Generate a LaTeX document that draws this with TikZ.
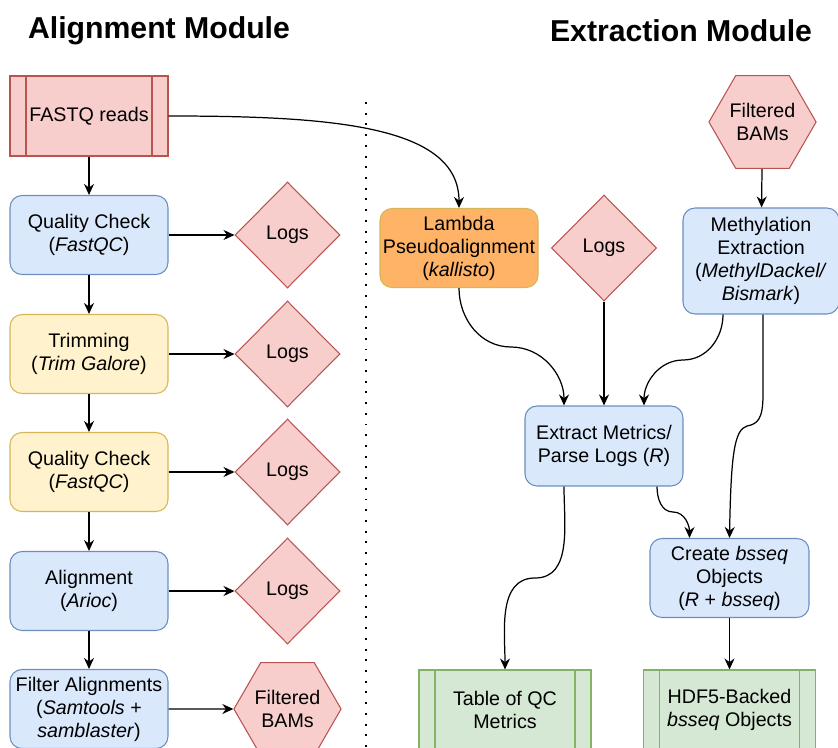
\documentclass[tikz,border=0pt]{standalone}
\usepackage{fontspec}
\setmainfont{Liberation Sans}
\usepackage{tikz}
\usetikzlibrary{shapes.geometric,arrows.meta,calc}

\definecolor{redF}{HTML}{F8CECC}
\definecolor{redD}{HTML}{B85450}
\definecolor{blueF}{HTML}{DAE8FC}
\definecolor{blueD}{HTML}{6C8EBF}
\definecolor{yelF}{HTML}{FFF2CC}
\definecolor{yelD}{HTML}{D6B656}
\definecolor{oraF}{HTML}{FFB366}
\definecolor{greF}{HTML}{D5E8D4}
\definecolor{greD}{HTML}{82B366}

\tikzset{
  every node/.style={font=\fontsize{11.2}{13.1}\selectfont, align=center},
  title/.style={font=\fontsize{17.2}{20}\selectfont\bfseries},
  box/.style={rectangle, rounded corners=0.24cm, line width=0.6pt, minimum width=3.16cm, minimum height=1.58cm, inner sep=1pt},
  bluebox/.style={box, draw=blueD, fill=blueF},
  yelbox/.style={box, draw=yelD, fill=yelF},
  orabox/.style={box, draw=yelD, fill=oraF},
  procbox/.style={rectangle, line width=0.6pt, minimum width=3.44cm, minimum height=1.6cm, inner sep=1pt},
  logs/.style={diamond, draw=redD, fill=redF, line width=0.6pt, minimum width=2.1cm, minimum height=2.12cm, inner sep=0pt},
  bams/.style={regular polygon, regular polygon sides=6, draw=redD, fill=redF, line width=0.6pt, minimum size=2.1cm, inner sep=0pt},
  arr/.style={line width=0.7pt, -{Stealth[length=0.22cm, width=0.2cm]}}
}

\begin{document}
\begin{tikzpicture}[x=0.02cm, y=-0.02cm]
\clip (0,0) rectangle (838,747);

% titles
\node[title] (tA) at (159,31) {Alignment Module};
\node[title] (tE) at (681,31) {Extraction Module};

\draw[line width=1.1pt, dash pattern=on 1.1pt off 5pt] (366,102) -- (366,760);

% alignment module
\node[procbox, draw=redD, fill=redF, minimum width=3.16cm] (fastq) at (89,116) {FASTQ reads};
\node[bluebox] (qc1) at (89,235) {Quality Check\\(\textit{FastQC})};
\node[yelbox] (trim) at (89,354) {Trimming\\(\textit{Trim Galore})};
\node[yelbox] (qc2) at (89,472) {Quality Check\\(\textit{FastQC})};
\node[bluebox] (aln) at (89,591) {Alignment\\(\textit{Arioc})};
\node[bluebox] (filt) at (89,709) {Filter Alignments\\(\textit{Samtools} +\\\textit{samblaster})};

\node[logs] (log1) at (287.5,235) {Logs};
\node[logs] (log2) at (287.5,354) {Logs};
\node[logs] (log3) at (287.5,472) {Logs};
\node[logs] (log4) at (287.5,591) {Logs};
\node[bams] (bam1) at (287.5,709) {Filtered\\BAMs};

% extraction module
\node[bams] (bam2) at (762.5,122) {Filtered\\BAMs};
\node[orabox] (lambda) at (459,248) {Lambda\\Pseudoalignment\\(\textit{kallisto})};
\node[logs] (log5) at (604,248) {Logs};
\node[bluebox, minimum width=3.12cm, minimum height=2.12cm] (meth) at (761,261) {Methylation\\Extraction\\(\textit{MethylDackel/}\\\textit{Bismark})};
\node[bluebox, minimum height=1.6cm] (extract) at (604,446) {Extract Metrics/\\Parse Logs (\textit{R})};
\node[bluebox, minimum width=3.18cm] (create) at (729.5,578) {Create \textit{bsseq}\\Objects\\(\textit{R} + \textit{bsseq})};
\node[procbox, draw=greD, fill=greF] (qctab) at (505,710) {Table of QC\\Metrics};
\node[procbox, draw=greD, fill=greF] (hdf) at (729.5,710) {HDF5-Backed\\\textit{bsseq} Objects};

\foreach \n/\c in {fastq/redD, qctab/greD, hdf/greD} {
  \draw[\c, line width=0.6pt] ([xshift=0.33cm]\n.north west) -- ([xshift=0.33cm]\n.south west);
  \draw[\c, line width=0.6pt] ([xshift=-0.33cm]\n.north east) -- ([xshift=-0.33cm]\n.south east);
}

% left column
\draw[arr] (fastq) -- (qc1);
\draw[arr] (qc1) -- (trim);
\draw[arr] (trim) -- (qc2);
\draw[arr] (qc2) -- (aln);
\draw[arr] (aln) -- (filt);
\draw[arr] (qc1) -- (log1);
\draw[arr] (trim) -- (log2);
\draw[arr] (qc2) -- (log3);
\draw[arr] (aln) -- (log4);
\draw[arr] (filt) -- (bam1);

% right column
\draw[arr] (fastq.east) .. controls (330,116) and (459,125) .. (lambda.north);
\draw[arr] (bam2) -- (meth);
\draw[arr] (lambda.south) to[out=-90, in=180] (511,347) to[out=0, in=90] ($(extract.north)+(-40,0)$);
\draw[arr] (log5) -- (extract);
\draw[arr] ($(meth.south)+(-38,0)$) to[out=-90, in=0] (683,360) to[out=180, in=90] ($(extract.north)+(40,0)$);
\draw[arr] ($(meth.south)+(2,0)$) -- (763,395) .. controls (763,420) and (757,424) .. (747,426) .. controls (735,430) and (731,450) .. (create.north);
\draw[arr] ($(extract.south)+(-40,0)$) to[out=-90, in=0] (535,578) to[out=180, in=90] (qctab.north);
\draw[arr] ($(extract.south)+(53,0)$) to[out=-90, in=180] (673,512) to[out=0, in=90] ($(create.north)+(-40,0)$);
\draw[arr] (create) -- (hdf);

\end{tikzpicture}
\end{document}
